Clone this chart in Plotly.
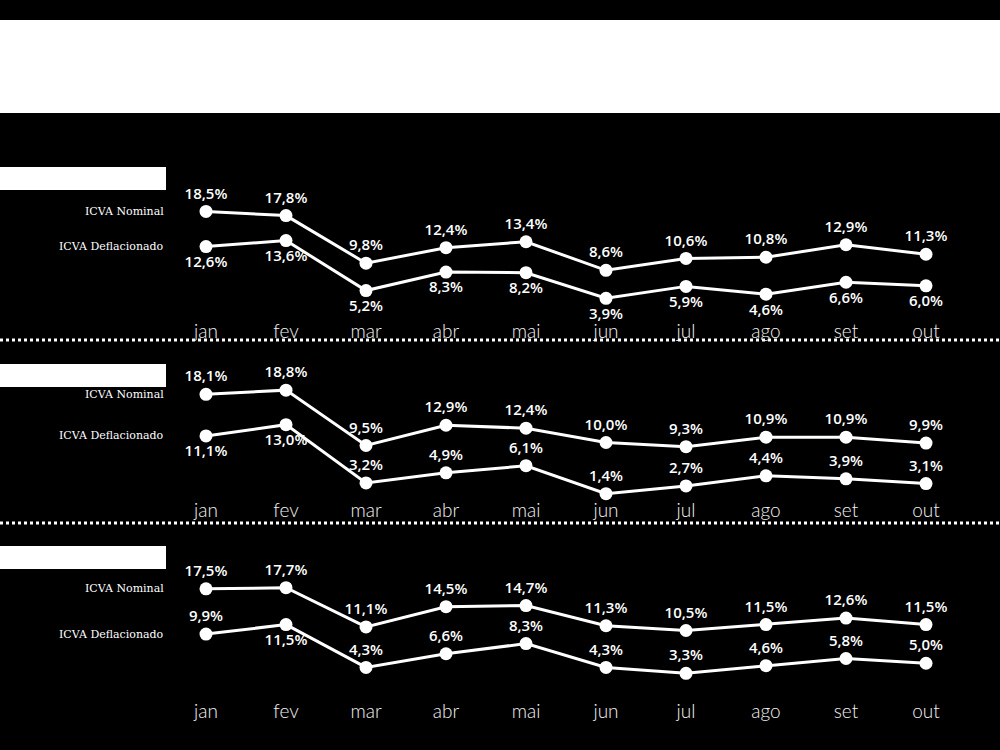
"""
ICVA panels: nominal vs deflacionado, three blocks on black.
"""

import plotly.graph_objects as go

BG = "#000000"
WHITE = "#FFFFFF"
MONTH_CLR = "#F2F2F2"

MONTHS = ["jan", "fev", "mar", "abr", "mai", "jun", "jul", "ago", "set", "out"]
SERIES_NAMES = ["ICVA Nominal", "ICVA Deflacionado"]

# panel 1
P1_NOMINAL = [18.5, 17.8, 9.8, 12.4, 13.4, 8.6, 10.6, 10.8, 12.9, 11.3]
P1_DEFLAC = [12.6, 13.6, 5.2, 8.3, 8.2, 3.9, 5.9, 4.6, 6.6, 6.0]
# panel 2
P2_NOMINAL = [18.1, 18.8, 9.5, 12.9, 12.4, 10.0, 9.3, 10.9, 10.9, 9.9]
P2_DEFLAC = [11.1, 13.0, 3.2, 4.9, 6.1, 1.4, 2.7, 4.4, 3.9, 3.1]
# panel 3
P3_NOMINAL = [17.5, 17.7, 11.1, 14.5, 14.7, 11.3, 10.5, 11.5, 12.6, 11.5]
P3_DEFLAC = [9.9, 11.5, 4.3, 6.6, 8.3, 4.3, 3.3, 4.6, 5.8, 5.0]

W, H = 1000, 750
PX_PER_UNIT = 5.95

# (top px, bottom px, px of value zero)
PANELS = [
    (150, 318, 321.5),
    (345, 497, 502.0),
    (530, 698, 693.0),
]
LABEL_BOXES = [(167, 190), (364, 387), (546, 569)]
SEPARATORS = [340, 523]

DEFLAC_POS = [
    ["bottom center"] * 10,
    ["bottom center", "bottom center"] + ["top center"] * 8,
    ["top center", "bottom center"] + ["top center"] * 8,
]

LABEL_FONT = dict(family="Open Sans", size=15, color=WHITE, weight=600)


def fy(px):
    return 1 - px / H


def pct(vals):
    return [f"{v:.1f}".replace(".", ",") + "%" for v in vals]


fig = go.Figure()
data = [(P1_NOMINAL, P1_DEFLAC), (P2_NOMINAL, P2_DEFLAC), (P3_NOMINAL, P3_DEFLAC)]

x_lo = -206 / 80
x_hi = (W - 206) / 80

for i, ((nom, dfl), (top, bot, zero)) in enumerate(zip(data, PANELS)):
    n = "" if i == 0 else str(i + 1)
    xa, ya = "x" + n, "y" + n
    for vals, pos in [(nom, "top center"), (dfl, DEFLAC_POS[i])]:
        fig.add_trace(go.Scatter(
            x=MONTHS, y=vals, xaxis=xa, yaxis=ya,
            mode="lines+markers+text",
            line=dict(color=WHITE, width=3),
            marker=dict(color=WHITE, size=13),
            text=pct(vals), textposition=pos,
            textfont=LABEL_FONT, cliponaxis=False,
            showlegend=False, hoverinfo="skip",
        ))
    fig.update_layout(**{
        "xaxis" + n: dict(
            domain=[0, 1], anchor=ya, type="category",
            categoryorder="array", categoryarray=MONTHS,
            range=[x_lo, x_hi], showgrid=False, zeroline=False,
            showline=False, ticks="",
            tickfont=dict(family="Lato", size=19, color=MONTH_CLR, weight=300),
        ),
        "yaxis" + n: dict(
            domain=[fy(bot), fy(top)], anchor=xa,
            range=[(zero - bot) / PX_PER_UNIT, (zero - top) / PX_PER_UNIT],
            visible=False,
        ),
    })
    for name, vals in zip(SERIES_NAMES, (nom, dfl)):
        fig.add_annotation(
            xref="paper", yref=ya, x=166 / W, y=vals[0],
            xanchor="right", yanchor="middle", showarrow=False,
            text=name, font=dict(family="DejaVu Serif", size=11, color=WHITE),
        )

shapes = [dict(type="rect", xref="paper", yref="paper", x0=0, x1=1,
               y0=fy(113), y1=fy(20), fillcolor=WHITE, line=dict(width=0))]
for t, b in LABEL_BOXES:
    shapes.append(dict(type="rect", xref="paper", yref="paper", x0=0, x1=166 / W,
                       y0=fy(b), y1=fy(t), fillcolor=WHITE, line=dict(width=0)))
for s in SEPARATORS:
    shapes.append(dict(type="line", xref="paper", yref="paper", x0=0, x1=1,
                       y0=fy(s), y1=fy(s), line=dict(color=WHITE, width=3, dash="dot")))

fig.update_layout(
    width=W, height=H,
    margin=dict(l=0, r=0, t=0, b=0),
    paper_bgcolor=BG, plot_bgcolor=BG,
    shapes=shapes,
)

fig.write_html(
    "out.html",
    config={"displayModeBar": False},
    post_script="document.body.style.margin='0';",
)
